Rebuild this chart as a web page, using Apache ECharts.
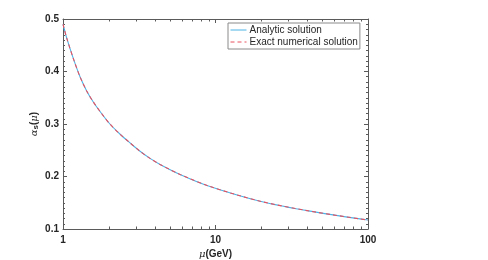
<!DOCTYPE html>
<html>
<head>
<meta charset="utf-8">
<script src="https://cdn.jsdelivr.net/npm/echarts@6/dist/echarts.min.js"></script>
<style>
  html, body { margin: 0; padding: 0; background: #fff; }
  #chart { width: 488px; height: 260px; }
</style>
</head>
<body>
<div id="chart"></div>
<script>
// Data
const muValues = [1, 1.057, 1.168, 1.293, 1.43, 1.58, 1.79, 2.03, 2.36, 2.75, 3.2, 3.7, 4.33, 5.85, 9.2, 19.6, 41.7, 100];
const analytic = [0.490, 0.464, 0.425, 0.390, 0.363, 0.342, 0.320, 0.300, 0.281, 0.264, 0.248, 0.235, 0.223, 0.204, 0.181, 0.153, 0.134, 0.117];
const numerical = [0.490, 0.464, 0.425, 0.390, 0.363, 0.342, 0.320, 0.300, 0.281, 0.264, 0.248, 0.235, 0.223, 0.204, 0.181, 0.153, 0.134, 0.117];
const xMinorTicks = [2, 3, 4, 5, 6, 7, 8, 9, 20, 30, 40, 50, 60, 70, 80, 90];
const seriesNames = ['Analytic solution', 'Exact numerical solution'];

const axisColor = '#5a5a5a';
const textColor = '#262626';
const FONT = 'Liberation Sans, Arial, Helvetica, sans-serif';

const chart = echarts.init(document.getElementById('chart'), null, { renderer: 'canvas' });

function pairs(xs, ys) { return xs.map((x, i) => [x, ys[i]]); }

const commonX = {
  type: 'log', logBase: 10, min: 1, max: 100,
  splitLine: { show: false },
  axisLine: { show: true, lineStyle: { color: axisColor, width: 1 } },
  axisTick: { show: true, inside: true, length: 4, lineStyle: { color: axisColor } }
};
const commonY = {
  type: 'value', min: 0.1, max: 0.5, interval: 0.1,
  splitLine: { show: false },
  axisLine: { show: true, lineStyle: { color: axisColor, width: 1 } },
  axisTick: { show: true, inside: true, length: 4, lineStyle: { color: axisColor } },
  minorTick: { show: true, splitNumber: 10, length: 2, lineStyle: { color: axisColor } }
};

const option = {
  backgroundColor: '#fff',
  animation: false,
  grid: { left: 63, top: 19, right: 120, bottom: 31, containLabel: false, outerBoundsMode: 'none' },
  legend: {
    data: seriesNames,
    orient: 'vertical',
    left: 228, top: 23,
    padding: [2, 2, 2, 2],
    itemGap: 2,
    itemWidth: 16,
    itemHeight: 11,
    backgroundColor: '#fff',
    borderColor: '#8a8a8a',
    borderWidth: 1,
    borderRadius: 0,
    itemStyle: { opacity: 0 },
    lineStyle: { width: 1 },
    textStyle: { fontFamily: FONT, fontSize: 10, color: textColor, padding: [0, 0, 0, -2] }
  },
  xAxis: [
    Object.assign({}, commonX, {
      position: 'bottom',
      axisLabel: { show: true, fontFamily: FONT, fontSize: 10, fontWeight: 'bold', color: textColor, margin: 6 },
      name: '{m|μ}{t|(GeV)}',
      nameLocation: 'middle',
      nameGap: 20,
      nameMoveOverlap: false,
      nameTextStyle: {
        rich: {
          m: { fontFamily: 'DejaVu Serif, serif', fontStyle: 'italic', fontSize: 10, color: textColor },
          t: { fontFamily: FONT, fontWeight: 'bold', fontSize: 10, color: textColor }
        }
      }
    }),
    Object.assign({}, commonX, {
      position: 'top',
      axisLabel: { show: false }
    })
  ],
  yAxis: [
    Object.assign({}, commonY, {
      position: 'left',
      axisLabel: {
        show: true, fontFamily: FONT, fontSize: 10, fontWeight: 'bold', color: textColor, margin: 4,
        formatter: v => v.toFixed(1)
      },
      name: '{a|α}{s|s}{b|(}{m|μ}{b|)}',
      nameLocation: 'middle',
      nameRotate: 90,
      nameGap: 23,
      nameMoveOverlap: false,
      nameTextStyle: {
        rich: {
          a: { fontFamily: 'DejaVu Serif, serif', fontStyle: 'italic', fontSize: 10, color: textColor },
          s: { fontFamily: FONT, fontWeight: 'bold', fontSize: 8, color: textColor, verticalAlign: 'bottom', padding: [4, 0, 0, 0] },
          b: { fontFamily: FONT, fontWeight: 'bold', fontSize: 10, color: textColor },
          m: { fontFamily: 'DejaVu Serif, serif', fontStyle: 'italic', fontSize: 10, color: textColor }
        }
      }
    }),
    Object.assign({}, commonY, {
      position: 'right',
      axisLabel: { show: false }
    })
  ],
  series: [
    {
      name: seriesNames[0],
      type: 'line',
      xAxisIndex: 0, yAxisIndex: 0,
      data: pairs(muValues, analytic),
      smooth: 0.3,
      symbol: 'none',
      showSymbol: false,
      lineStyle: { color: '#4DB3E6', width: 1.1, type: 'solid' },
      itemStyle: { color: '#4DB3E6' },
      z: 3
    },
    {
      name: seriesNames[1],
      type: 'line',
      xAxisIndex: 0, yAxisIndex: 0,
      data: pairs(muValues, numerical),
      smooth: 0.3,
      symbol: 'none',
      showSymbol: false,
      lineStyle: { color: '#E8505E', width: 1.1, type: [4, 3] },
      itemStyle: { color: '#E8505E' },
      z: 4
    },
    {
      name: 'xminor',
      type: 'custom',
      xAxisIndex: 0, yAxisIndex: 0,
      silent: true,
      clip: false,
      data: xMinorTicks.map(v => [v, 0.1]),
      encode: { x: 0, y: 1 },
      renderItem: function (params, api) {
        const v = api.value(0);
        const pb = api.coord([v, 0.1]);
        const pt = api.coord([v, 0.5]);
        const x = Math.round(pb[0]) + 0.5;
        return {
          type: 'group',
          children: [
            { type: 'line', shape: { x1: x, y1: pb[1], x2: x, y2: pb[1] - 2.5 }, style: { stroke: axisColor, lineWidth: 1 } },
            { type: 'line', shape: { x1: x, y1: pt[1], x2: x, y2: pt[1] + 2.5 }, style: { stroke: axisColor, lineWidth: 1 } }
          ]
        };
      },
      z: 5
    }
  ]
};

chart.setOption(option);
</script>
</body>
</html>
